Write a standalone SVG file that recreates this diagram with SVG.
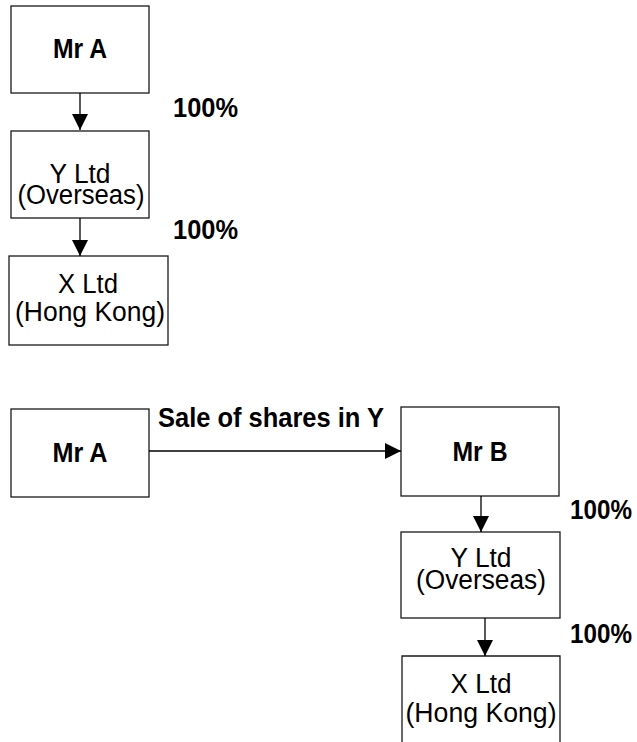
<svg xmlns="http://www.w3.org/2000/svg" width="637" height="742" viewBox="0 0 637 742">
  <style>
    .box { fill: #fff; stroke: #1a1a1a; stroke-width: 1.3; }
    .edge { fill: none; stroke: #000; stroke-width: 1.3; }
    .lbl { font-family: "Liberation Sans", Arial, sans-serif; font-size: 27px; fill: #000; text-anchor: middle; }
    .name { font-weight: bold; }
    .pct { font-family: "Liberation Sans", Arial, sans-serif; font-size: 27px; font-weight: bold; fill: #000; }
  </style>
  <defs>
    <marker id="arrow" viewBox="0 0 16 16" refX="16" refY="8" markerWidth="16" markerHeight="16" markerUnits="userSpaceOnUse" orient="auto">
      <path d="M0,0 L16,8 L0,16 Z" fill="#000"/>
    </marker>
  </defs>

  <rect width="637" height="742" fill="#fff"/>

  <!-- Before: ownership chain -->
  <g id="top-mr-a">
    <rect class="box" x="11" y="6" width="138" height="87"/>
    <text class="lbl name" x="80" y="58" textLength="54" lengthAdjust="spacingAndGlyphs">Mr A</text>
  </g>
  <g id="top-y-ltd">
    <rect class="box" x="11" y="131" width="138" height="87"/>
    <text class="lbl" x="80" y="183" textLength="61" lengthAdjust="spacingAndGlyphs">Y Ltd</text>
    <text class="lbl" x="81" y="204" textLength="127" lengthAdjust="spacingAndGlyphs">(Overseas)</text>
  </g>
  <g id="top-x-ltd">
    <rect class="box" x="9" y="256" width="159" height="89"/>
    <text class="lbl" x="88" y="293" textLength="60" lengthAdjust="spacingAndGlyphs">X Ltd</text>
    <text class="lbl" x="90" y="321" textLength="150" lengthAdjust="spacingAndGlyphs">(Hong Kong)</text>
  </g>

  <!-- After: sale to Mr B -->
  <g id="bottom-mr-a">
    <rect class="box" x="11" y="409" width="138" height="88"/>
    <text class="lbl name" x="80" y="462" textLength="55" lengthAdjust="spacingAndGlyphs">Mr A</text>
  </g>
  <g id="bottom-mr-b">
    <rect class="box" x="401" y="407" width="158" height="89"/>
    <text class="lbl name" x="480" y="461" textLength="55" lengthAdjust="spacingAndGlyphs">Mr B</text>
  </g>
  <g id="bottom-y-ltd">
    <rect class="box" x="401" y="532" width="159" height="86"/>
    <text class="lbl" x="481" y="567" textLength="61" lengthAdjust="spacingAndGlyphs">Y Ltd</text>
    <text class="lbl" x="481" y="589" textLength="130" lengthAdjust="spacingAndGlyphs">(Overseas)</text>
  </g>
  <g id="bottom-x-ltd">
    <path class="box" d="M402,742 V656 H560 V742"/>
    <text class="lbl" x="481" y="693" textLength="61" lengthAdjust="spacingAndGlyphs">X Ltd</text>
    <text class="lbl" x="481" y="722" textLength="151" lengthAdjust="spacingAndGlyphs">(Hong Kong)</text>
  </g>

  <!-- Connectors -->
  <g id="connectors">
    <line class="edge" x1="80" y1="93" x2="80" y2="130" marker-end="url(#arrow)"/>
    <line class="edge" x1="80" y1="218" x2="80" y2="256" marker-end="url(#arrow)"/>
    <line class="edge" x1="149" y1="451" x2="401" y2="451" marker-end="url(#arrow)"/>
    <line class="edge" x1="481" y1="496" x2="481" y2="532" marker-end="url(#arrow)"/>
    <line class="edge" x1="485" y1="618" x2="485" y2="656" marker-end="url(#arrow)"/>
  </g>

  <!-- Edge labels -->
  <g id="labels">
    <text class="pct" x="173" y="117" textLength="65" lengthAdjust="spacingAndGlyphs">100%</text>
    <text class="pct" x="173" y="239" textLength="65" lengthAdjust="spacingAndGlyphs">100%</text>
    <text class="pct" x="158" y="427" textLength="226" lengthAdjust="spacingAndGlyphs">Sale of shares in Y</text>
    <text class="pct" x="570" y="519" textLength="62" lengthAdjust="spacingAndGlyphs">100%</text>
    <text class="pct" x="570" y="643" textLength="62" lengthAdjust="spacingAndGlyphs">100%</text>
  </g>
</svg>
